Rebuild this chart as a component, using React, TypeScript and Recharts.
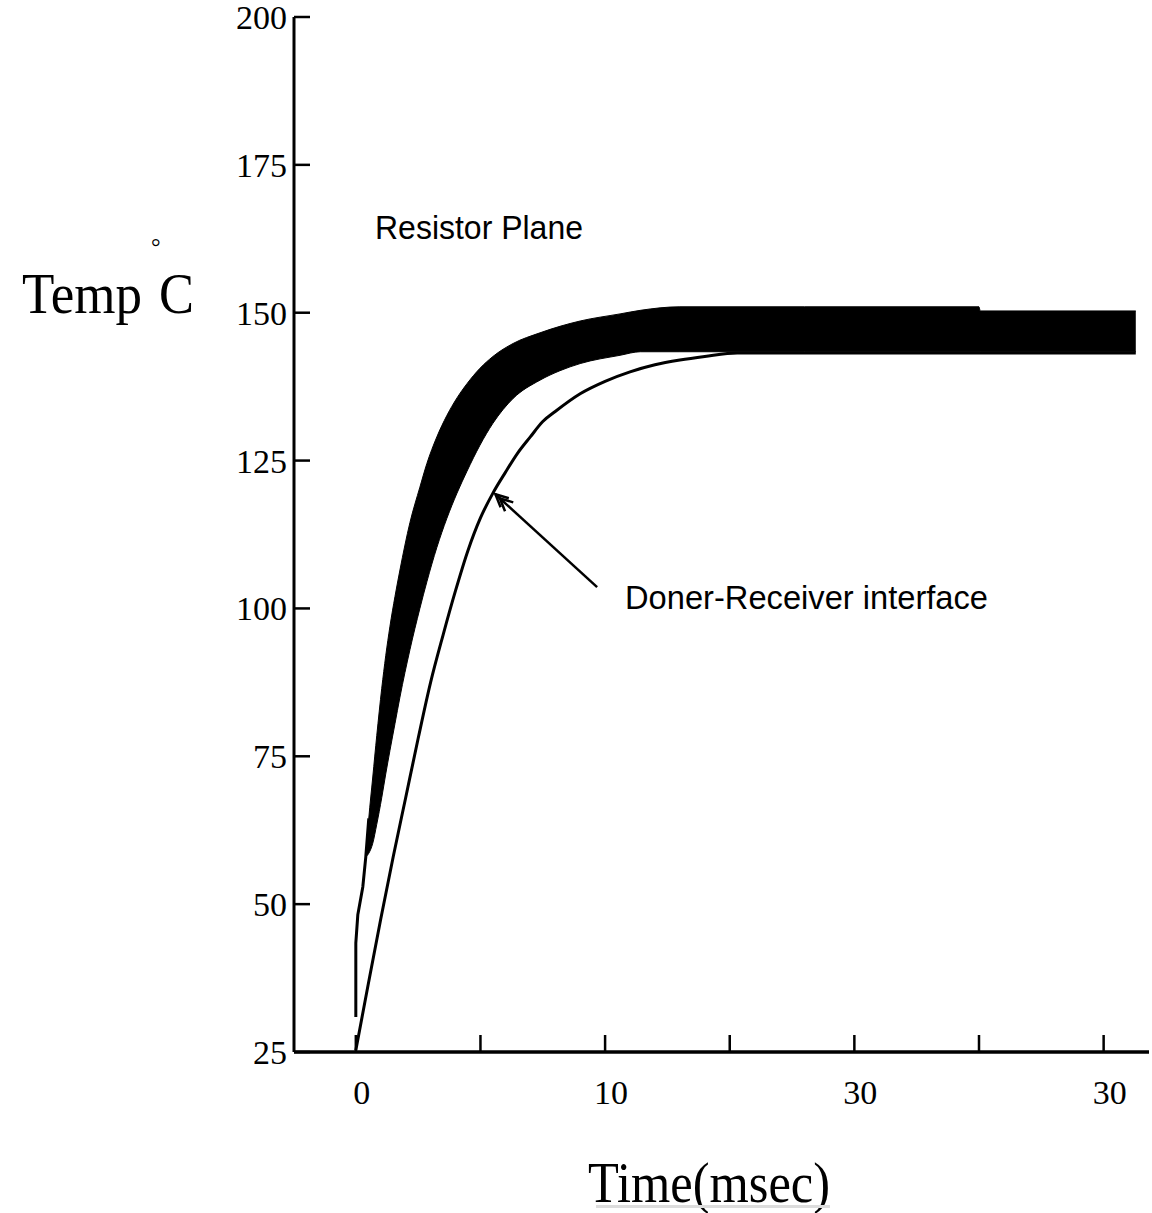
import React from 'react';
import { ComposedChart, Line, Area, XAxis, YAxis, ReferenceLine } from 'recharts';

// axis ticks (the image labels the 20 tick as "30")
const X_TICKS = [0, 5, 10, 15, 20, 25, 30];
const X_TICK_LABELS = ['0', '', '10', '', '30', '', '30'];
const Y_TICKS = [25, 50, 75, 100, 125, 150, 175, 200];
const Y_TICK_LABELS = ['25', '50', '75', '100', '125', '150', '175', '200'];

// resistor plane: thin start of the curve
const resistorStartTime = [0, 0, 0.08, 0.28, 0.4, 0.52];
const resistorStartTemp = [30.9, 43.4, 48.2, 52.9, 58.0, 64.5];

// resistor plane: thick band (lower / upper edge)
const bandTime = [0.4, 0.52, 0.68, 0.84, 1.04, 1.2, 1.37, 1.57, 1.77, 2.17, 2.57, 2.85, 3.25, 3.65, 4.06, 4.46, 4.98, 5.5, 6.31, 7.39, 8.19, 9.0, 10.6, 11.41, 13.0, 18.0, 25.0, 25.05, 31.29];
const bandUpper = [58.0, 64.5, 71.5, 78.5, 86.5, 92.0, 97.0, 102.0, 106.5, 114.5, 120.5, 124.5, 129.0, 132.6, 135.6, 138.0, 140.6, 142.6, 144.8, 146.6, 147.7, 148.6, 149.8, 150.4, 151.0, 151.0, 151.0, 150.3, 150.3];
const bandLower = [58.0, 58.6, 60.3, 63.5, 68.0, 72.0, 76.0, 80.5, 85.0, 93.0, 100.0, 104.5, 110.3, 115.2, 119.5, 123.2, 127.6, 131.3, 135.5, 138.6, 140.2, 141.4, 142.8, 143.4, 143.4, 143.4, 143.4, 143.4, 143.4];

// doner-receiver interface
const interfaceTime = [0, 0.5, 1.0, 1.5, 2.0, 2.5, 3.0, 3.5, 4.0, 4.5, 5.0, 5.5, 6.0, 6.5, 7.0, 7.5, 8.0, 9.0, 10.0, 11.0, 12.0, 13.0, 14.0, 15.3, 20.0, 31.29];
const interfaceTemp = [25.3, 36.5, 47.5, 58.0, 68.0, 78.0, 87.5, 95.5, 103.0, 109.8, 115.3, 119.5, 123.0, 126.3, 129.0, 131.6, 133.3, 136.3, 138.4, 140.0, 141.2, 142.0, 142.6, 143.2, 143.2, 143.2];

// arrow from the label to the interface curve
const arrowFrom = { x: 9.68, y: 103.6 };
const arrowTo = { x: 5.6, y: 119.3 };

const startData = resistorStartTime.map((t, i) => ({ t, temp: resistorStartTemp[i] }));
const bandData = bandTime.map((t, i) => ({ t, range: [bandLower[i], bandUpper[i]] }));
const interfaceData = interfaceTime.map((t, i) => ({ t, temp: interfaceTemp[i] }));

const tickFont = { fontFamily: 'Liberation Serif', fontSize: 34, fill: '#000' };

const XTick = (props: any) => {
    const { x, y, payload } = props;
    const label = X_TICK_LABELS[X_TICKS.indexOf(payload.value)];
    return (
        <g>
            <line x1={x} y1={y} x2={x} y2={y - 17} stroke="#000" strokeWidth={2.5} />
            {label ? (
                <text x={x + 6} y={y + 52} textAnchor="middle" {...tickFont}>
                    {label}
                </text>
            ) : null}
        </g>
    );
};

const YTick = (props: any) => {
    const { x, y, payload } = props;
    const label = Y_TICK_LABELS[Y_TICKS.indexOf(payload.value)];
    return (
        <g>
            <line x1={x} y1={y} x2={x + 16} y2={y} stroke="#000" strokeWidth={2.5} />
            <text x={x - 7} y={y + 12} textAnchor="end" {...tickFont}>
                {label}
            </text>
        </g>
    );
};

const Arrow = (props: any) => {
    const { x1, y1, x2, y2 } = props;
    const ang = Math.atan2(y1 - y2, x1 - x2);
    const head = (d: number, spread: number) =>
        `M${x2 + d * Math.cos(ang) + 14 * Math.cos(ang - spread)},${y2 + d * Math.sin(ang) + 14 * Math.sin(ang - spread)} L${x2 + d * Math.cos(ang)},${y2 + d * Math.sin(ang)} L${x2 + d * Math.cos(ang) + 14 * Math.cos(ang + spread)},${y2 + d * Math.sin(ang) + 14 * Math.sin(ang + spread)}`;
    return (
        <g>
            <line x1={x1} y1={y1} x2={x2} y2={y2} stroke="#000" strokeWidth={2.5} />
            <path d={head(0, 0.45)} fill="none" stroke="#000" strokeWidth={2.5} />
            <path d={head(6, 0.45)} fill="none" stroke="#000" strokeWidth={2.5} />
        </g>
    );
};

const App: React.FC = () => {
    return (
        <div style={{ position: 'absolute', left: 0, top: 0, width: 1152, height: 1213, background: '#fff' }}>
            <ComposedChart width={1152} height={1213} margin={{ top: 17, right: 3, bottom: 160, left: 293 }}>
                <XAxis
                    type="number"
                    dataKey="t"
                    domain={[-2.48, 31.82]}
                    ticks={X_TICKS}
                    interval={0}
                    height={1}
                    tickSize={0}
                    tickMargin={0}
                    tickLine={false}
                    tick={<XTick />}
                    axisLine={{ stroke: '#000', strokeWidth: 3.5 }}
                    allowDataOverflow
                />
                <YAxis
                    type="number"
                    domain={[25, 200]}
                    ticks={Y_TICKS}
                    interval={0}
                    width={1}
                    tickSize={0}
                    tickMargin={0}
                    tickLine={false}
                    tick={<YTick />}
                    axisLine={{ stroke: '#000', strokeWidth: 3 }}
                    allowDataOverflow
                />
                <Line
                    data={interfaceData}
                    dataKey="temp"
                    type="monotone"
                    stroke="#000"
                    strokeWidth={3}
                    dot={false}
                    isAnimationActive={false}
                />
                <Area
                    data={bandData}
                    dataKey="range"
                    type="monotone"
                    stroke="#000"
                    strokeWidth={1}
                    fill="#000"
                    fillOpacity={1}
                    dot={false}
                    isAnimationActive={false}
                />
                <Line
                    data={startData}
                    dataKey="temp"
                    type="linear"
                    stroke="#000"
                    strokeWidth={3}
                    dot={false}
                    isAnimationActive={false}
                />
                <ReferenceLine segment={[arrowFrom, arrowTo]} shape={<Arrow />} />
            </ComposedChart>
            <svg
                width={1152}
                height={1213}
                style={{ position: 'absolute', left: 0, top: 0, pointerEvents: 'none' }}
            >
                <text x={22} y={313} fontFamily="Liberation Serif" fontSize={58} textLength={120} lengthAdjust="spacingAndGlyphs">
                    Temp
                </text>
                <text x={151} y={255} fontFamily="Liberation Serif" fontSize={24}>
                    °
                </text>
                <text x={159} y={313} fontFamily="Liberation Serif" fontSize={58} textLength={35} lengthAdjust="spacingAndGlyphs">
                    C
                </text>
                <text x={375} y={239} fontFamily="Liberation Sans" fontSize={33} textLength={208} lengthAdjust="spacingAndGlyphs">
                    Resistor Plane
                </text>
                <text x={625} y={609} fontFamily="Liberation Sans" fontSize={33} textLength={363} lengthAdjust="spacingAndGlyphs">
                    Doner-Receiver interface
                </text>
                <text x={588} y={1202} fontFamily="Liberation Serif" fontSize={56} textLength={242} lengthAdjust="spacingAndGlyphs">
                    Time(msec)
                </text>
                <rect x={596} y={1205} width={234} height={3} fill="#dcdcdc" />
            </svg>
        </div>
    );
};

export default App;
